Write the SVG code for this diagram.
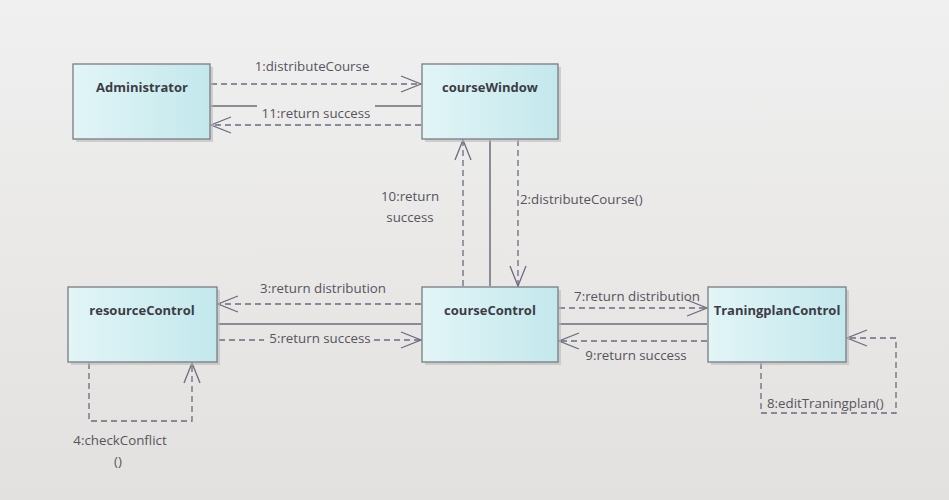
<svg xmlns="http://www.w3.org/2000/svg" width="949" height="500" viewBox="0 0 949 500">
<defs>
<linearGradient id="bg" x1="0" y1="0" x2="0" y2="1">
<stop offset="0" stop-color="#f0f0f0"/>
<stop offset="1" stop-color="#e3e1df"/>
</linearGradient>
<linearGradient id="nf" x1="0" y1="0" x2="1" y2="0">
<stop offset="0" stop-color="#e2f5f7"/>
<stop offset="1" stop-color="#c3e8ec"/>
</linearGradient>
<marker id="oa" markerWidth="24" markerHeight="20" refX="21" refY="10" orient="auto" markerUnits="userSpaceOnUse">
<path d="M1,2 L21,10 L1,18" fill="none" stroke="#6b6b7e" stroke-width="1.3"/>
</marker>
</defs>
<style>
.node rect.b{fill:url(#nf);stroke:#7b7b82;stroke-width:1.3}
.node rect.s{fill:#b9b9b9;opacity:0.6}
.node text{font-family:"Open Sans","Liberation Sans",sans-serif;font-size:13px;font-weight:bold;fill:#3c3c44;text-anchor:middle}
.d{fill:none;stroke:#6b6b7e;stroke-width:1.3;stroke-dasharray:6,4}
.l{fill:none;stroke:#6b6b7e;stroke-width:1.5}
.t{font-family:"Open Sans","Liberation Sans",sans-serif;font-size:13.3px;fill:#55555c}
</style>
<rect width="949" height="500" fill="url(#bg)"/>
<g id="connectors">
<line class="d" x1="211" y1="84" x2="421" y2="84" marker-end="url(#oa)"/>
<line class="l" x1="211" y1="106" x2="257" y2="106"/>
<line class="l" x1="375" y1="106" x2="421" y2="106"/>
<line class="d" x1="421" y1="125" x2="211" y2="125" marker-end="url(#oa)"/>
<line class="d" x1="463" y1="286" x2="463" y2="140" marker-end="url(#oa)"/>
<line class="l" x1="490" y1="140" x2="490" y2="286"/>
<line class="d" x1="518" y1="140" x2="518" y2="286" marker-end="url(#oa)"/>
<line class="d" x1="421" y1="304" x2="218" y2="304" marker-end="url(#oa)"/>
<line class="l" x1="218" y1="324" x2="421" y2="324"/>
<line class="d" x1="219" y1="340" x2="264" y2="340"/>
<line class="d" x1="374" y1="340" x2="421" y2="340" marker-end="url(#oa)"/>
<path class="d" d="M89,363 V421 H192 V363" marker-end="url(#oa)"/>
<line class="d" x1="559" y1="308" x2="707" y2="308" marker-end="url(#oa)"/>
<line class="l" x1="559" y1="324" x2="707" y2="324"/>
<line class="d" x1="707" y1="341" x2="559" y2="341" marker-end="url(#oa)"/>
<path class="d" d="M761,363 V413 H896 V338 H847" marker-end="url(#oa)"/>
<text class="t" x="312" y="71" text-anchor="middle">1:distributeCourse</text>
<text class="t" x="316" y="118" text-anchor="middle">11:return success</text>
<text class="t" x="410" y="201" text-anchor="middle">10:return</text>
<text class="t" x="410" y="222" text-anchor="middle">success</text>
<text class="t" x="520" y="204">2:distributeCourse()</text>
<text class="t" x="323" y="293" text-anchor="middle">3:return distribution</text>
<text class="t" x="320" y="343" text-anchor="middle">5:return success</text>
<text class="t" x="120" y="445" text-anchor="middle">4:checkConflict</text>
<text class="t" x="118" y="466" text-anchor="middle">()</text>
<text class="t" x="637" y="301" text-anchor="middle">7:return distribution</text>
<text class="t" x="636" y="360" text-anchor="middle">9:return success</text>
<text class="t" x="767" y="408">8:editTraningplan()</text>
</g>
<g id="Administrator" class="node">
<rect class="s" x="76" y="67" width="137" height="75"/>
<rect class="b" x="73" y="64" width="137" height="75"/>
<text x="142" y="92">Administrator</text>
</g>
<g id="courseWindow" class="node">
<rect class="s" x="425" y="67" width="136" height="75"/>
<rect class="b" x="422" y="64" width="136" height="75"/>
<text x="490" y="92">courseWindow</text>
</g>
<g id="resourceControl" class="node">
<rect class="s" x="71" y="290" width="149" height="75"/>
<rect class="b" x="68" y="287" width="149" height="75"/>
<text x="142" y="315">resourceControl</text>
</g>
<g id="courseControl" class="node">
<rect class="s" x="425" y="290" width="136" height="75"/>
<rect class="b" x="422" y="287" width="136" height="75"/>
<text x="490" y="315">courseControl</text>
</g>
<g id="TraningplanControl" class="node">
<rect class="s" x="711" y="290" width="138" height="75"/>
<rect class="b" x="708" y="287" width="138" height="75"/>
<text x="777" y="315">TraningplanControl</text>
</g>
</svg>
